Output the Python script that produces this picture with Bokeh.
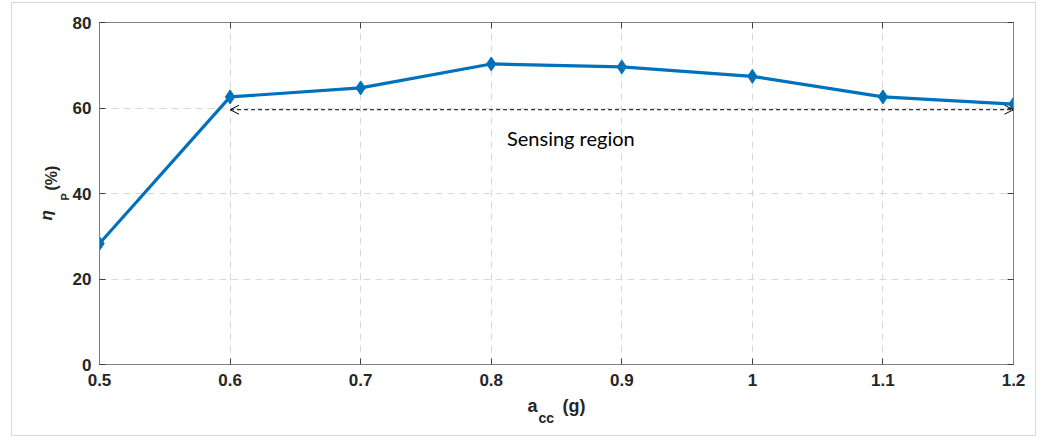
import math
from bokeh.plotting import figure
from bokeh.models import (FixedTicker, Arrow, OpenHead, Label, Title, LinearAxis,
                          CustomJSTickFormatter, ColumnDataSource, Range1d)
from bokeh.embed import file_html
from bokeh.resources import INLINE

acc = [0.5, 0.6, 0.7, 0.8, 0.9, 1.0, 1.1, 1.2]
eta_p = [28.3, 62.6, 64.7, 70.3, 69.6, 67.4, 62.6, 60.9]
x_ticks = [0.5, 0.6, 0.7, 0.8, 0.9, 1.0, 1.1, 1.2]
x_tick_labels = ["0.5", "0.6", "0.7", "0.8", "0.9", "1", "1.1", "1.2"]
y_ticks = [0, 20, 40, 60, 80]
region_start, region_end, region_level = 0.6, 1.2, 59.6
region_text = "Sensing region"
region_text_x = 0.861

BLUE = "#0072BD"
AX = "#262626"
FONT = "Liberation Sans"
NB = "\u00a0"

p = figure(width=1025, height=434, output_backend="svg", toolbar_location=None,
           x_range=Range1d(0.5, 1.2), y_range=Range1d(0, 80),
           min_border_left=87, min_border_right=24, min_border_top=19,
           min_border_bottom=73, background_fill_color="white",
           border_fill_color="white")
p.styles = {"border": "1px solid #d9d9d9"}
p.margin = (2, 0, 0, 11)
p.outline_line_color = "#808080"
p.outline_line_width = 1

xaxis_b = p.below[0]
yaxis_l = p.left[0]

blank = CustomJSTickFormatter(code="return ''")
xaxis_t = LinearAxis(ticker=FixedTicker(ticks=x_ticks), formatter=blank,
                     major_label_standoff=0, major_label_text_font_size="1px")
yaxis_r = LinearAxis(ticker=FixedTicker(ticks=y_ticks), formatter=blank,
                     major_label_standoff=0, major_label_text_font_size="1px")
p.add_layout(xaxis_t, "above")
p.add_layout(yaxis_r, "right")

for ax in (xaxis_b, yaxis_l, xaxis_t, yaxis_r):
    ax.axis_line_color = "#808080"
    ax.major_tick_line_color = "#404040"
    ax.major_tick_in = 6
    ax.major_tick_out = 0
    ax.minor_tick_line_color = None

for ax in (xaxis_b, yaxis_l):
    ax.major_label_text_font = FONT
    ax.major_label_text_font_style = "bold"
    ax.major_label_text_font_size = "17px"
    ax.major_label_text_color = AX

xaxis_b.ticker = FixedTicker(ticks=x_ticks)
xaxis_b.major_label_overrides = {t: l for t, l in zip(x_ticks, x_tick_labels)}
xaxis_b.major_label_standoff = 9
xaxis_b.axis_label = "a" + NB * 5 + "(g)"
xaxis_b.axis_label_text_font = FONT
xaxis_b.axis_label_text_font_style = "bold"
xaxis_b.axis_label_text_font_size = "18px"
xaxis_b.axis_label_text_color = AX
xaxis_b.axis_label_standoff = 7
yaxis_l.ticker = FixedTicker(ticks=y_ticks)
yaxis_l.major_label_standoff = 8

p.xgrid.ticker = FixedTicker(ticks=x_ticks)
p.ygrid.ticker = FixedTicker(ticks=y_ticks)
for g in (p.xgrid[0], p.ygrid[0]):
    g.grid_line_color = "#d8d8d8"
    g.grid_line_dash = "7 5"
    g.grid_line_width = 1

src = ColumnDataSource(dict(x=acc, y=eta_p))
p.line("x", "y", source=src, line_color=BLUE, line_width=3.2)
p.scatter("x", "y", source=src, marker="diamond", size=14, fill_color=BLUE,
          line_color=BLUE)

head_kw = dict(size=9, line_color="black", line_width=1)
p.add_layout(Arrow(x_start=region_start, x_end=region_end, y_start=region_level,
                   y_end=region_level, start=OpenHead(**head_kw),
                   end=OpenHead(**head_kw), line_color="black", line_width=1,
                   line_dash="4 3"))
p.add_layout(Label(x=region_text_x, y=region_level,
                   y_offset=-28, text=region_text, text_font="Lato",
                   text_font_size="20px", text_color="black", text_align="center",
                   text_baseline="alphabetic"))

# subscript of the x axis title
p.add_layout(Title(text="cc", align="left", offset=439, vertical_align="top",
                   standoff=-18, text_font=FONT, text_font_style="bold",
                   text_font_size="14px", text_color=AX), "below")

# y axis title: eta_P(%)
p.add_layout(Title(text="P", align="left", offset=164, vertical_align="bottom",
                   standoff=-2, text_font=FONT, text_font_style="bold",
                   text_font_size="11px", text_color=AX), "left")
p.add_layout(Title(text="η", align="left", offset=144, vertical_align="bottom",
                   standoff=4, text_font=FONT, text_font_style="bold italic",
                   text_font_size="17px", text_color=AX), "left")
p.add_layout(Title(text="(%)", align="left", offset=174, vertical_align="bottom",
                   standoff=-54, text_font=FONT, text_font_style="bold",
                   text_font_size="16px", text_color=AX), "left")

open("out.html", "w").write(file_html(p, INLINE))
